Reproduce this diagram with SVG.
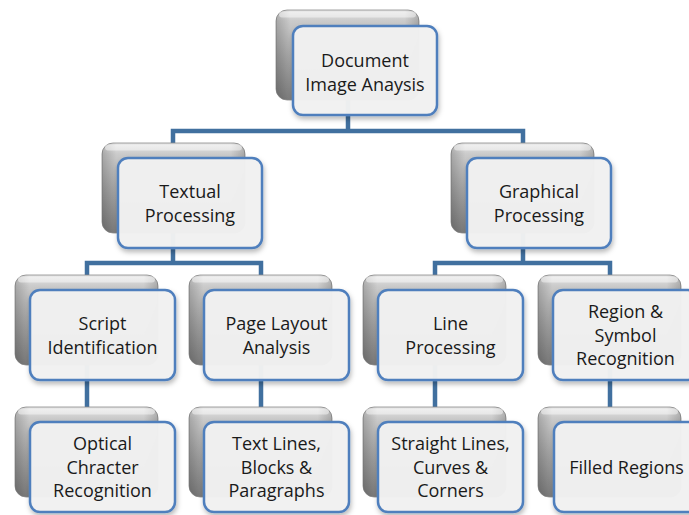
<svg xmlns="http://www.w3.org/2000/svg" width="689" height="515" viewBox="0 0 689 515">
<defs>
<linearGradient id="gray" x1="0" y1="0" x2="0" y2="1">
<stop offset="0" stop-color="#e6e6e6"/>
<stop offset="0.12" stop-color="#cbcbcb"/>
<stop offset="0.5" stop-color="#a8a8a8"/>
<stop offset="1" stop-color="#7e7e7e"/>
</linearGradient>
<linearGradient id="grayH" x1="0" y1="0" x2="1" y2="0">
<stop offset="0" stop-color="#000" stop-opacity="0.18"/>
<stop offset="0.1" stop-color="#000" stop-opacity="0"/>
<stop offset="0.9" stop-color="#000" stop-opacity="0"/>
<stop offset="1" stop-color="#000" stop-opacity="0.18"/>
</linearGradient>
<filter id="sh" x="-20%" y="-20%" width="140%" height="150%">
<feDropShadow dx="1" dy="3" stdDeviation="2.5" flood-color="#000" flood-opacity="0.28"/>
</filter>
<g id="back">
<rect x="0" y="0" width="143" height="90" rx="11" fill="url(#gray)" stroke="#8a8a8a" stroke-width="0.8"/>
<rect x="0" y="0" width="143" height="90" rx="11" fill="url(#grayH)"/>
<rect x="3" y="1.5" width="137" height="6" rx="3" fill="#fff" opacity="0.45"/>
</g>
</defs>
<style>
.front{fill:#f2f2f2;fill-opacity:0.97;stroke:#4f7fbd;stroke-width:2.5;filter:url(#sh)}
.conn{fill:none;stroke:#41709f;stroke-width:4.5;stroke-linejoin:miter;stroke-linecap:butt}
text{font-family:"Open Sans","Noto Sans","Liberation Sans",sans-serif;font-size:18px;fill:#1a1a1a;text-anchor:middle}
</style>
<rect width="689" height="515" fill="#fff"/>
<g id="connectors">
<path class="conn" d="M348 100V131M173 145V131H523V145"/>
<path class="conn" d="M173 233V263M87 277V263H261V277"/>
<path class="conn" d="M523 233V263M435 277V263H610V277"/>
<path class="conn" d="M87 365V409M261 365V409M435 365V409M610 365V409"/>
</g>
<g id="n-doc">
<use href="#back" x="276" y="10"/>
<rect class="front" x="293" y="26" width="144" height="89" rx="10"/>
<text x="365" y="67">Document</text>
<text x="365" y="91">Image Anaysis</text>
</g>
<g id="n-textual">
<use href="#back" x="102" y="143"/>
<rect class="front" x="118" y="158" width="144" height="90" rx="10"/>
<text x="190" y="198">Textual</text>
<text x="190" y="222">Processing</text>
</g>
<g id="n-graphical">
<use href="#back" x="451" y="143"/>
<rect class="front" x="467" y="158" width="144" height="90" rx="10"/>
<text x="539" y="198">Graphical</text>
<text x="539" y="222">Processing</text>
</g>
<g id="n-script">
<use href="#back" x="15" y="275"/>
<rect class="front" x="30" y="290" width="145" height="90" rx="10"/>
<text x="102.5" y="330">Script</text>
<text x="102.5" y="354">Identification</text>
</g>
<g id="n-layout">
<use href="#back" x="189" y="275"/>
<rect class="front" x="204" y="290" width="145" height="90" rx="10"/>
<text x="276.5" y="330">Page Layout</text>
<text x="276.5" y="354">Analysis</text>
</g>
<g id="n-line">
<use href="#back" x="363" y="275"/>
<rect class="front" x="378" y="290" width="145" height="90" rx="10"/>
<text x="450.5" y="330">Line</text>
<text x="450.5" y="354">Processing</text>
</g>
<g id="n-region">
<use href="#back" x="538" y="275"/>
<rect class="front" x="553" y="290" width="145" height="90" rx="10"/>
<text x="625.5" y="318">Region &amp;</text>
<text x="625.5" y="342">Symbol</text>
<text x="625.5" y="365">Recognition</text>
</g>
<g id="n-ocr">
<use href="#back" x="15" y="407"/>
<rect class="front" x="30" y="422" width="145" height="90" rx="10"/>
<text x="102.5" y="450">Optical</text>
<text x="102.5" y="474">Chracter</text>
<text x="102.5" y="497">Recognition</text>
</g>
<g id="n-textlines">
<use href="#back" x="189" y="407"/>
<rect class="front" x="204" y="422" width="145" height="90" rx="10"/>
<text x="276.5" y="450">Text Lines,</text>
<text x="276.5" y="474">Blocks &amp;</text>
<text x="276.5" y="497">Paragraphs</text>
</g>
<g id="n-straight">
<use href="#back" x="363" y="407"/>
<rect class="front" x="378" y="422" width="145" height="90" rx="10"/>
<text x="450.5" y="450">Straight Lines,</text>
<text x="450.5" y="474">Curves &amp;</text>
<text x="450.5" y="497">Corners</text>
</g>
<g id="n-filled">
<use href="#back" x="538" y="407"/>
<rect class="front" x="554" y="422" width="145" height="90" rx="10"/>
<text x="626.5" y="474">Filled Regions</text>
</g>
</svg>
